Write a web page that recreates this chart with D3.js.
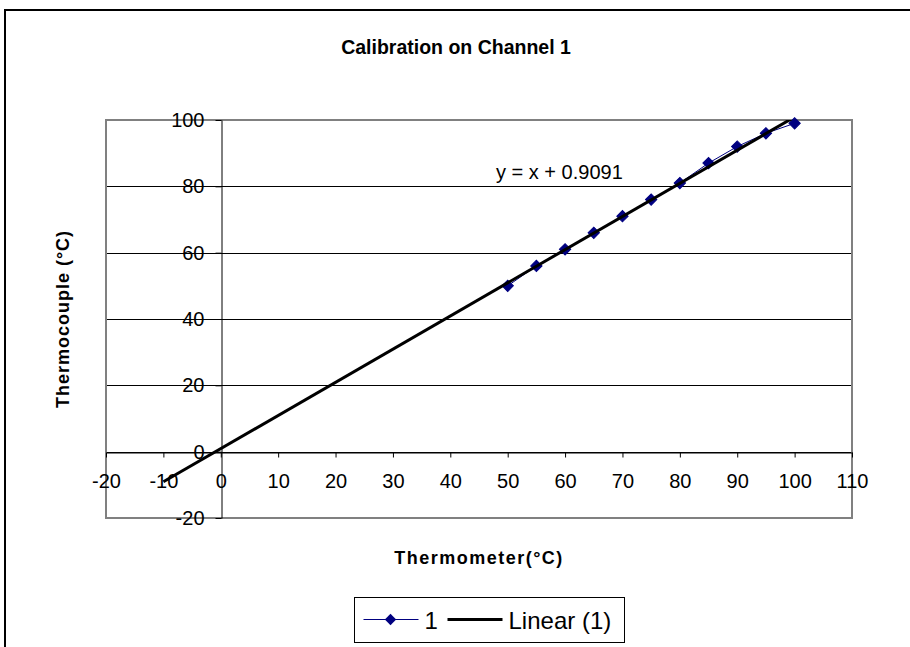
<!DOCTYPE html>
<html>
<head>
<meta charset="utf-8">
<script src="https://cdn.jsdelivr.net/npm/d3@7"></script>
<style>
  body { margin: 0; background: #fff; }
  text { font-family: "Liberation Sans", Arial, sans-serif; }
</style>
</head>
<body>
<div id="chart"></div>
<script>
// readings: thermometer vs thermocouple on channel 1
var thermometer = [50, 55, 60, 65, 70, 75, 80, 85, 90, 95, 100];
var thermocouple = [50, 56, 61, 66, 71, 76, 81, 87, 92, 96, 99];
var xTicks = [-20, -10, 0, 10, 20, 30, 40, 50, 60, 70, 80, 90, 100, 110];
var yTicks = [-20, 0, 20, 40, 60, 80, 100];
var trendRange = [-10, 110];

var svgWidth = 910;
var svgHeight = 647;

var plot = { left: 106, right: 852, top: 120, bottom: 518 };

var svg = d3
  .select("#chart")
  .append("svg")
  .attr("width", svgWidth)
  .attr("height", svgHeight);

// outer chart frame (runs off the right and bottom edge)
svg
  .append("rect")
  .attr("x", 5)
  .attr("y", 10)
  .attr("width", 950)
  .attr("height", 700)
  .attr("fill", "#fff")
  .attr("stroke", "#000")
  .attr("stroke-width", 2);

var xScale = d3.scaleLinear().domain([-20, 110]).range([plot.left, plot.right]);
var yScale = d3.scaleLinear().domain([-20, 100]).range([plot.bottom, plot.top]);

svg
  .append("defs")
  .append("clipPath")
  .attr("id", "plotClip")
  .append("rect")
  .attr("x", plot.left)
  .attr("y", plot.top)
  .attr("width", plot.right - plot.left)
  .attr("height", plot.bottom - plot.top);

// horizontal gridlines
svg
  .append("g")
  .selectAll("line")
  .data(yTicks.filter((d) => d > -20 && d < 100))
  .enter()
  .append("line")
  .attr("x1", plot.left)
  .attr("x2", plot.right)
  .attr("y1", (d) => Math.round(yScale(d)) + 0.5)
  .attr("y2", (d) => Math.round(yScale(d)) + 0.5)
  .attr("stroke", "#000")
  .attr("stroke-width", 1);

// plot area border
svg
  .append("rect")
  .attr("x", plot.left)
  .attr("y", plot.top)
  .attr("width", plot.right - plot.left)
  .attr("height", plot.bottom - plot.top)
  .attr("fill", "none")
  .attr("stroke", "#808080")
  .attr("stroke-width", 2);

// plain hyphen for negatives, like the original
var tickFmt = (d) => String(d);

// x axis through y = 0
var xAxis = d3
  .axisBottom(xScale)
  .tickValues(xTicks)
  .tickSize(5)
  .tickSizeOuter(0)
  .tickPadding(16)
  .tickFormat(tickFmt);

var xAxisG = svg
  .append("g")
  .attr("transform", `translate(0, ${Math.round(yScale(0)) + 0.5})`)
  .call(xAxis);
xAxisG.select(".domain").attr("stroke", "#000");
xAxisG.selectAll(".tick line").attr("stroke", "#000");
xAxisG
  .selectAll(".tick text")
  .attr("font-size", "20px")
  .attr("fill", "#000")
  .attr("font-family", "Liberation Sans, Arial, sans-serif");

// y axis through x = 0
var yAxis = d3
  .axisLeft(yScale)
  .tickValues(yTicks)
  .tickSize(6)
  .tickSizeOuter(0)
  .tickPadding(11)
  .tickFormat(tickFmt);

var yAxisG = svg
  .append("g")
  .attr("transform", `translate(${Math.round(xScale(0)) + 0.5}, 0)`)
  .call(yAxis);
yAxisG.select(".domain").attr("stroke", "#000");
yAxisG.selectAll(".tick line").attr("stroke", "#000");
yAxisG
  .selectAll(".tick text")
  .attr("font-size", "20px")
  .attr("fill", "#000")
  .attr("font-family", "Liberation Sans, Arial, sans-serif");

var points = thermometer.map((x, i) => ({ x: x, y: thermocouple[i] }));

// least squares fit for the trendline
var mx = d3.mean(thermometer);
var my = d3.mean(thermocouple);
var sxy = d3.sum(points, (d) => (d.x - mx) * (d.y - my));
var sxx = d3.sum(points, (d) => (d.x - mx) * (d.x - mx));
var slope = sxy / sxx;
var intercept = my - slope * mx;

var seriesLine = d3
  .line()
  .x((d) => xScale(d.x))
  .y((d) => yScale(d.y));

svg
  .append("path")
  .datum(points)
  .attr("d", seriesLine)
  .attr("fill", "none")
  .attr("stroke", "#000080")
  .attr("stroke-width", 1);

var diamond = d3.symbol().type(d3.symbolSquare).size(64);

svg
  .append("g")
  .selectAll("path")
  .data(points)
  .enter()
  .append("path")
  .attr("d", diamond)
  .attr("transform", (d) => `translate(${xScale(d.x)}, ${yScale(d.y)}) rotate(45)`)
  .attr("fill", "#000080")
  .attr("stroke", "#000080");

var trendPoints = trendRange.map((x) => ({ x: x, y: slope * x + intercept }));

svg
  .append("path")
  .datum(trendPoints)
  .attr("d", seriesLine)
  .attr("clip-path", "url(#plotClip)")
  .attr("fill", "none")
  .attr("stroke", "#000")
  .attr("stroke-width", 3);

// trendline equation
svg
  .append("text")
  .attr("x", 496)
  .attr("y", 179)
  .attr("font-size", "20px")
  .attr("fill", "#000")
  .text("y = x + 0.9091");

// title
svg
  .append("text")
  .attr("x", 456)
  .attr("y", 54)
  .attr("text-anchor", "middle")
  .attr("font-size", "19.5px")
  .attr("font-weight", "bold")
  .text("Calibration on Channel 1");

// axis titles
svg
  .append("text")
  .attr("x", (plot.left + plot.right) / 2)
  .attr("y", 564)
  .attr("text-anchor", "middle")
  .attr("font-size", "18px")
  .attr("font-weight", "bold")
  .attr("letter-spacing", "1.5px")
  .text("Thermometer(°C)");

svg
  .append("text")
  .attr("transform", `translate(69, ${(plot.top + plot.bottom) / 2}) rotate(-90)`)
  .attr("text-anchor", "middle")
  .attr("font-size", "18px")
  .attr("font-weight", "bold")
  .attr("letter-spacing", "1px")
  .text("Thermocouple (°C)");

// legend
var legend = svg.append("g").attr("transform", "translate(354.5, 597.5)");

legend
  .append("rect")
  .attr("width", 270)
  .attr("height", 45)
  .attr("fill", "#fff")
  .attr("stroke", "#000")
  .attr("stroke-width", 1);

legend
  .append("line")
  .attr("x1", 9)
  .attr("x2", 64)
  .attr("y1", 22)
  .attr("y2", 22)
  .attr("stroke", "#000080")
  .attr("stroke-width", 1);

legend
  .append("path")
  .attr("d", diamond)
  .attr("transform", "translate(36, 22) rotate(45)")
  .attr("fill", "#000080");

legend
  .append("text")
  .attr("x", 70)
  .attr("y", 31)
  .attr("font-size", "24px")
  .text("1");

legend
  .append("line")
  .attr("x1", 93)
  .attr("x2", 148)
  .attr("y1", 22)
  .attr("y2", 22)
  .attr("stroke", "#000")
  .attr("stroke-width", 3);

legend
  .append("text")
  .attr("x", 154)
  .attr("y", 31)
  .attr("font-size", "24px")
  .text("Linear (1)");
</script>
</body>
</html>
